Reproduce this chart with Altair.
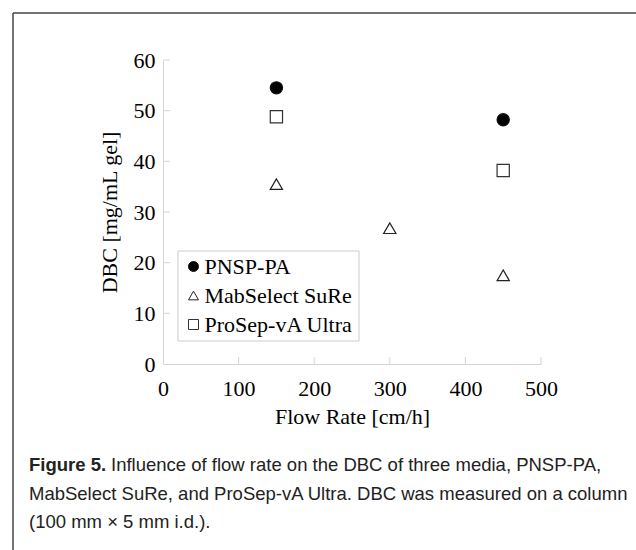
import altair as alt
import pandas as pd

# ---- data ----
series = ["PNSP-PA", "MabSelect SuRe", "ProSep-vA Ultra"]
pnsp_flow = [150, 450]
pnsp_dbc = [54.5, 48.2]
mab_flow = [150, 300, 450]
mab_dbc = [35.5, 26.8, 17.5]
prosep_flow = [150, 450]
prosep_dbc = [48.8, 38.2]
x_ticks = [0, 100, 200, 300, 400, 500]
y_ticks = [0, 10, 20, 30, 40, 50, 60]
x_title = "Flow Rate [cm/h]"
y_title = "DBC [mg/mL gel]"
caption_bold = "Figure 5."
caption_lines = [
    "Influence of flow rate on the DBC of three media, PNSP-PA,",
    "MabSelect SuRe, and ProSep-vA Ultra. DBC was measured on a column",
    "(100 mm \u00d7 5 mm i.d.).",
]

rows = []
for name, fl, db in zip(series, [pnsp_flow, mab_flow, prosep_flow], [pnsp_dbc, mab_dbc, prosep_dbc]):
    for f, d in zip(fl, db):
        rows.append({"series": name, "flow": f, "dbc": d})
df = pd.DataFrame(rows)

W, H = 378, 304
SERIF = "Liberation Serif"
CAP_FONT = "Liberation Sans"

xs = alt.Scale(domain=[x_ticks[0], x_ticks[-1]], nice=False, zero=True)
ys = alt.Scale(domain=[y_ticks[0], y_ticks[-1]], nice=False, zero=True)
x_axis = alt.Axis(values=x_ticks, title=x_title, labelFlush=False)
y_axis = alt.Axis(values=y_ticks, title=y_title, labelFlush=False)

leg = alt.Legend(
    title=None, orient="none", legendX=14.5, legendY=190.5,
    padding=5, strokeColor="#cccccc", fillColor="white",
    labelFont=SERIF, labelFontSize=22, labelColor="black",
    symbolSize=100, symbolStrokeWidth=1,
    rowPadding=7, labelOffset=0, symbolOffset=0,
)

points = alt.Chart(df).mark_point(
    filled=True, size=150, strokeWidth=1.2, opacity=1
).encode(
    x=alt.X("flow:Q", scale=xs, axis=x_axis),
    y=alt.Y("dbc:Q", scale=ys, axis=y_axis),
    shape=alt.Shape("series:N", scale=alt.Scale(domain=series, range=["circle", "triangle-up", "square"]), legend=leg),
    fill=alt.Fill("series:N", scale=alt.Scale(domain=series, range=["black", "white", "white"]), legend=leg),
    stroke=alt.Stroke("series:N", scale=alt.Scale(domain=series, range=["#111111", "#222222", "#333333"]), legend=leg),
)

xt = alt.Chart(pd.DataFrame({"flow": x_ticks[1:]})).mark_rule(color="#d4d4d4", strokeWidth=1).encode(
    x=alt.X("flow:Q", scale=xs, axis=x_axis), y=alt.value(H), y2=alt.value(H - 7)
)
yt = alt.Chart(pd.DataFrame({"dbc": y_ticks[1:]})).mark_rule(color="#d4d4d4", strokeWidth=1).encode(
    y=alt.Y("dbc:Q", scale=ys, axis=y_axis), x=alt.value(0), x2=alt.value(7)
)

one = pd.DataFrame({"a": [0]})
frame_top = alt.Chart(one).mark_rule(color="#444444", strokeWidth=1.5).encode(
    x=alt.value(-150), x2=alt.value(480), y=alt.value(-47)
)
frame_left = alt.Chart(one).mark_rule(color="#444444", strokeWidth=1.5).encode(
    x=alt.value(-150), y=alt.value(-47), y2=alt.value(500)
)

cap_color = "#222222"
cap_size = 18.5
cap_bold = alt.Chart(one).mark_text(
    align="left", baseline="alphabetic", font=CAP_FONT, fontSize=cap_size, fontWeight="bold", color=cap_color
).encode(x=alt.value(-134), y=alt.value(411), text=alt.value(caption_bold))
cap1 = alt.Chart(one).mark_text(
    align="left", baseline="alphabetic", font=CAP_FONT, fontSize=cap_size, color=cap_color
).encode(x=alt.value(-52), y=alt.value(411), text=alt.value(caption_lines[0]))
cap2 = alt.Chart(one).mark_text(
    align="left", baseline="alphabetic", font=CAP_FONT, fontSize=cap_size, color=cap_color
).encode(x=alt.value(-134), y=alt.value(440), text=alt.value(caption_lines[1]))
cap3 = alt.Chart(one).mark_text(
    align="left", baseline="alphabetic", font=CAP_FONT, fontSize=cap_size, color=cap_color
).encode(x=alt.value(-134), y=alt.value(468), text=alt.value(caption_lines[2]))

chart = alt.layer(
    frame_top, frame_left, xt, yt, points, cap_bold, cap1, cap2, cap3
).properties(
    width=W, height=H, autosize="none",
    padding={"left": 163, "top": 60, "right": 95, "bottom": 186},
    background="white",
).configure_view(stroke=None).configure_axis(
    grid=False, ticks=False, domainColor="#d4d4d4", domainWidth=1,
    labelFont=SERIF, labelFontSize=22, labelColor="black",
    titleFont=SERIF, titleFontSize=22, titleFontWeight="normal", titleColor="black",
).configure_axisX(labelPadding=14, titlePadding=7).configure_axisY(labelPadding=8, titlePadding=12)

chart.save("out.html", embed_options={"renderer": "svg", "actions": False})
